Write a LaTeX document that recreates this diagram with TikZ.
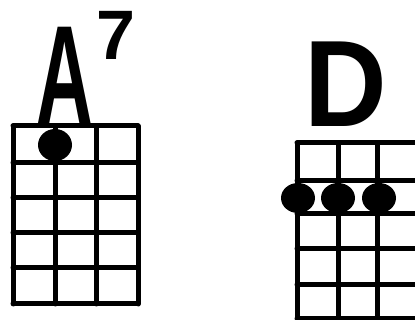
\documentclass[tikz,border=0pt]{standalone}
\usepackage{fontspec}
\setmainfont{Liberation Sans}

\begin{document}
\begin{tikzpicture}[x=1pt,y=-1pt,
    fret/.style={line width=5pt, line cap=round},
    chordname/.style={inner sep=0pt}]
    \useasboundingbox (0,0) rectangle (415,320);
    \clip (0,0) rectangle (415,320);

    % A7
    \node[chordname, font=\fontsize{140}{140}\selectfont\bfseries, xscale=0.56] (nameA) at (65,75) {A};
    \node[chordname, font=\fontsize{70}{70}\selectfont\bfseries] (nameSeven) at (116,35) {7};
    \foreach \x in {13,55,96,138} \draw[fret] (\x,126) -- (\x,304);
    \foreach \y in {126,163,198,233,268,304} \draw[fret] (13,\y) -- (138,\y);
    \fill (55,145) ellipse (17 and 16);

    % D
    \node[chordname, font=\fontsize{123}{123}\selectfont\bfseries, xscale=0.93] (nameD) at (346,84) {D};
    \foreach \x in {297,338,377,417} \draw[fret] (\x,143) -- (\x,319);
    \foreach \y in {143,181,214,249,285,319} \draw[fret] (297,\y) -- (417,\y);
    \foreach \x in {298,338,379} \fill (\x,198) ellipse (17 and 15);
\end{tikzpicture}
\end{document}
